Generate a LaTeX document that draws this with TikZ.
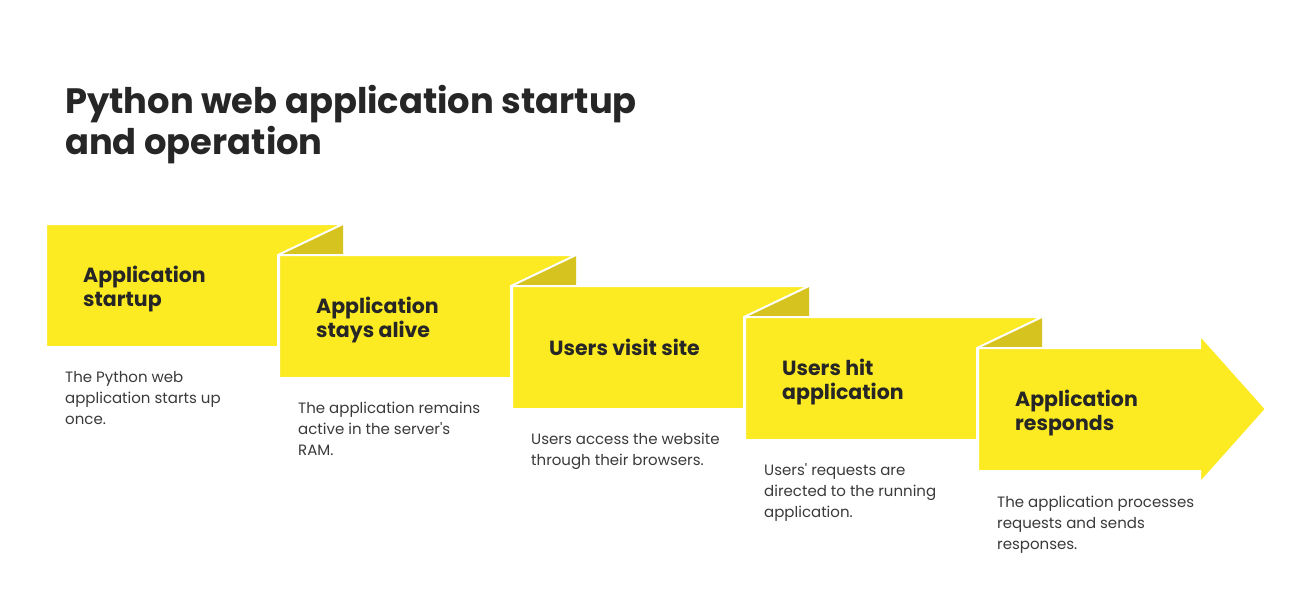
\documentclass[tikz,border=0pt]{standalone}
\usepackage{fontspec}
\setmainfont{Poppins}[Ligatures=TeXOff]
\definecolor{ylw}{HTML}{FCEA22}
\definecolor{foldc}{HTML}{D6C31F}
\definecolor{ink}{HTML}{262626}
\definecolor{bodyc}{HTML}{3A3A3A}
\begin{document}
\begin{tikzpicture}[x=1pt,y=-1pt,
  panel/.style={fill=ylw, draw=white, line width=2pt, line join=miter},
  foldtri/.style={fill=foldc},
  lbl/.style={anchor=base west, inner sep=0pt, align=left, font=\fontsize{20.5}{24}\selectfont\bfseries, text=ink},
  desc/.style={anchor=base west, inner sep=0pt, align=left, font=\fontsize{15}{21}\selectfont, text=bodyc},
  ttl/.style={anchor=base west, inner sep=0pt, align=left, font=\fontsize{35.3}{41.5}\selectfont\bfseries, text=ink}]
\useasboundingbox (0,0) rectangle (1300,615);
\fill[white] (0,0) rectangle (1300,615);

\node[ttl] (title) at (65,154.5) {Python web application startup\\and operation};

% panels 1-4
\foreach \i in {0,1,2,3}{
  \pgfmathsetmacro{\L}{46+233*\i}
  \pgfmathsetmacro{\T}{224+31*\i}
  \fill[foldtri] (\L+297,\T) -- (\L+297,\T+31) -- (\L+232,\T+31) -- cycle;
  \draw[panel] (\L,\T) -- (\L+297,\T) -- (\L+232,\T+31) -- (\L+232,\T+123) -- (\L,\T+123) -- cycle;
}
% panel 5 arrow
\draw[panel] (978,348) -- (1200,348) -- (1200,335) -- (1266,409) -- (1200,483) -- (1200,471) -- (978,471) -- cycle;

\node[lbl] (l1) at (83,306) {Application\\startup};
\node[lbl] (l2) at (316,337) {Application\\stays alive};
\node[lbl] (l3) at (549,355) {Users visit site};
\node[lbl] (l4) at (782,399) {Users hit\\application};
\node[lbl] (l5) at (1015,430) {Application\\responds};

\node[desc] (d1) at (65,424) {The Python web\\application starts up\\once.};
\node[desc] (d2) at (298,455) {The application remains\\active in the server's\\RAM.};
\node[desc] (d3) at (531,465) {Users access the website\\through their browsers.};
\node[desc] (d4) at (764,517) {Users' requests are\\directed to the running\\application.};
\node[desc] (d5) at (997,549) {The application processes\\requests and sends\\responses.};
\end{tikzpicture}
\end{document}
